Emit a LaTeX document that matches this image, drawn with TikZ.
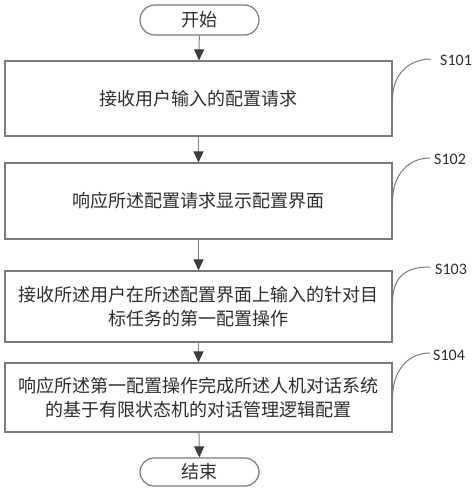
\documentclass[tikz,border=0pt]{standalone}
\usepackage{fontspec}
\setmainfont{Carlito}
\newfontfamily\cjk{Noto Sans CJK SC}
\usetikzlibrary{arrows.meta,shapes.misc}
\definecolor{boxgray}{HTML}{7A7A7A}
\definecolor{linegray}{HTML}{808080}
\definecolor{headgray}{HTML}{3C3C3C}
\definecolor{textc}{HTML}{2E2E2E}
\begin{document}
\begin{tikzpicture}[x=1pt,y=-1pt,
  stepbox/.style={draw=boxgray, line width=1.2pt, minimum width=387pt, inner sep=0pt,
    font=\cjk\fontsize{18}{24}\selectfont, text=textc, align=center, fill=white},
  term/.style={rounded rectangle, draw=boxgray, line width=1.2pt, minimum width=119pt,
    inner sep=0pt, font=\cjk\fontsize{18}{22}\selectfont, text=textc},
  arr/.style={draw=linegray, line width=1pt, -{Triangle[length=11pt,width=10pt,color=headgray]}},
  lab/.style={anchor=west, inner sep=0pt, font=\fontsize{16}{18}\selectfont, text=textc},
  curv/.style={draw=boxgray, line width=1pt}
]
\useasboundingbox[fill=white] (0,0) rectangle (474,493);

\node[term, minimum height=30pt] (start) at (199.5,20) {开始};
\node[stepbox, minimum height=75pt] (b1) at (198.5,98.5) {接收用户输入的配置请求};
\node[stepbox, minimum height=76pt] (b2) at (198.5,201) {响应所述配置请求显示配置界面};
\node[stepbox, minimum height=71pt] (b3) at (198.5,306.5) {接收所述用户在所述配置界面上输入的针对目\\标任务的第一配置操作};
\node[stepbox, minimum height=69pt] (b4) at (198.5,397.5) {响应所述第一配置操作完成所述人机对话系统\\的基于有限状态机的对话管理逻辑配置};
\node[term, minimum height=28pt] (end) at (199.5,472) {结束};

\draw[arr] (start) -- (b1);
\draw[arr] (b1) -- (b2);
\draw[arr] (b2) -- (b3);
\draw[arr] (b3) -- (b4);
\draw[arr] (b4) -- (end);

\node[lab] (l1) at (440,60) {S101};
\node[lab] (l2) at (434,159) {S102};
\node[lab] (l3) at (435,269) {S103};
\node[lab] (l4) at (433,355) {S104};

\coordinate (c1) at ([xshift=-9pt,yshift=1pt]l1.west);
\coordinate (c2) at ([xshift=-4pt,yshift=1pt]l2.west);
\coordinate (c3) at ([xshift=-5pt,yshift=2pt]l3.west);
\coordinate (c4) at ([xshift=-3pt,yshift=2pt]l4.west);

\draw[curv] (b1.east) .. controls +(0,-24) and +(-22,0) .. (c1);
\draw[curv] (b2.east) .. controls +(0,-26) and +(-22,0) .. (c2);
\draw[curv] ([yshift=4pt]b3.east) .. controls +(0,-28) and +(-22,0) .. (c3);
\draw[curv] (b4.east) .. controls +(0,-27) and +(-22,0) .. (c4);
\end{tikzpicture}
\end{document}
